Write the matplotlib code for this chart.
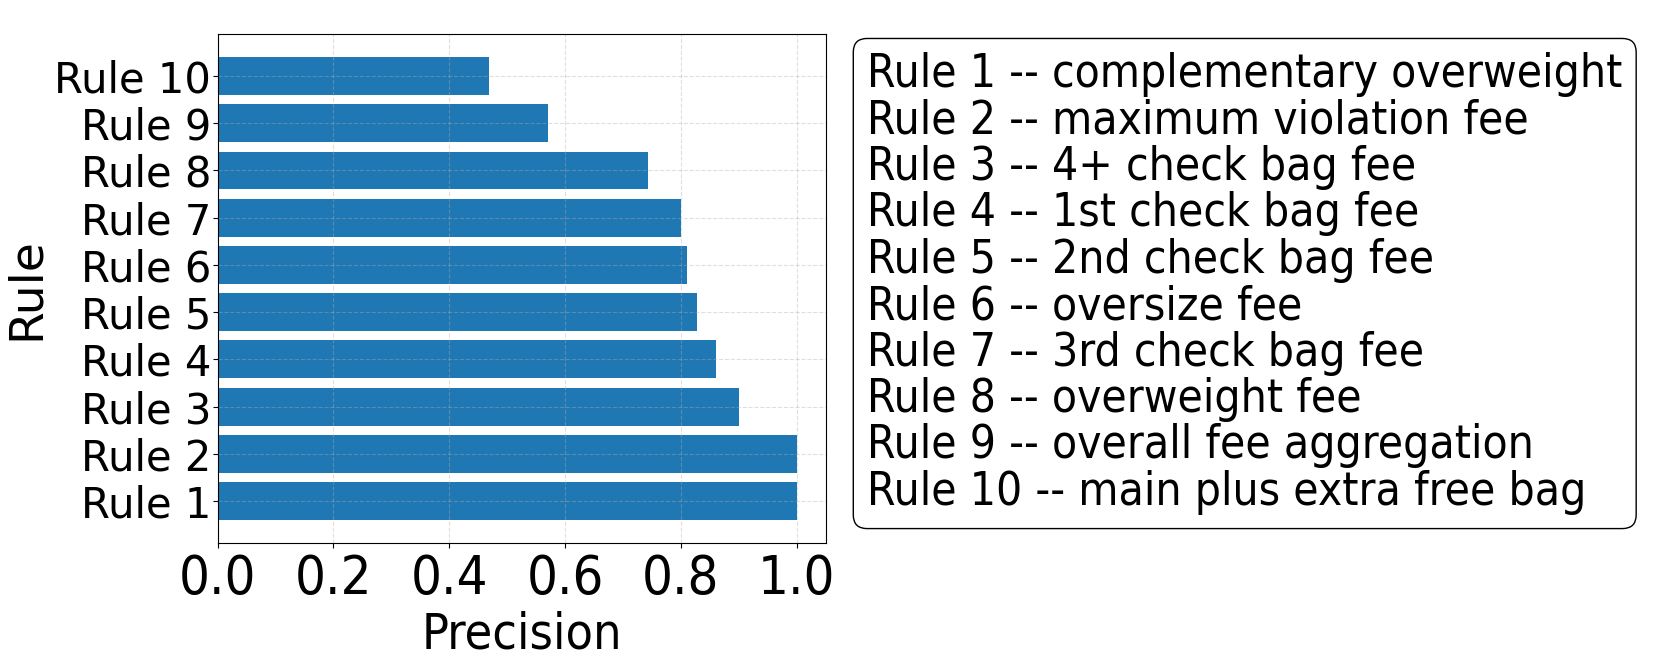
import matplotlib
matplotlib.use("Agg")
import matplotlib.pyplot as plt
import numpy as np

rules = ["Rule 1", "Rule 2", "Rule 3", "Rule 4", "Rule 5",
         "Rule 6", "Rule 7", "Rule 8", "Rule 9", "Rule 10"]
precision = [1.0, 1.0, 0.90, 0.86, 0.828, 0.81, 0.80, 0.743, 0.571, 0.469]
descriptions = [
    "complementary overweight",
    "maximum violation fee",
    "4+ check bag fee",
    "1st check bag fee",
    "2nd check bag fee",
    "oversize fee",
    "3rd check bag fee",
    "overweight fee",
    "overall fee aggregation",
    "main plus extra free bag",
]

fig = plt.figure(figsize=(16.61, 6.64), dpi=100)
ax = fig.add_axes([0.131, 0.182, 0.366, 0.767])

ax.barh(rules, precision, color="#1f77b4")
ax.grid(True, linestyle="--", alpha=0.4)
ax.set_xticks(np.arange(0, 1.01, 0.2))
ax.set_xlabel("Precision", fontsize=36, fontstretch="condensed")
ax.set_ylabel("Rule", fontsize=34)
ax.tick_params(axis="y", labelsize=30, pad=1)
for lab in ax.get_xticklabels():
    lab.set_fontsize(39)
    lab.set_fontstretch("condensed")

# key for the rule numbers, drawn as a boxed text block
key = "\n".join(f"{r} -- {d}" for r, d in zip(rules, descriptions))
fig.text(0.522, 0.573, key, fontsize=33, va="center", ha="left",
         linespacing=1.04, fontstretch="condensed",
         bbox=dict(boxstyle="round,pad=0.3", facecolor="white",
                   edgecolor="black", linewidth=1))

fig.savefig("out.png", dpi=100)
